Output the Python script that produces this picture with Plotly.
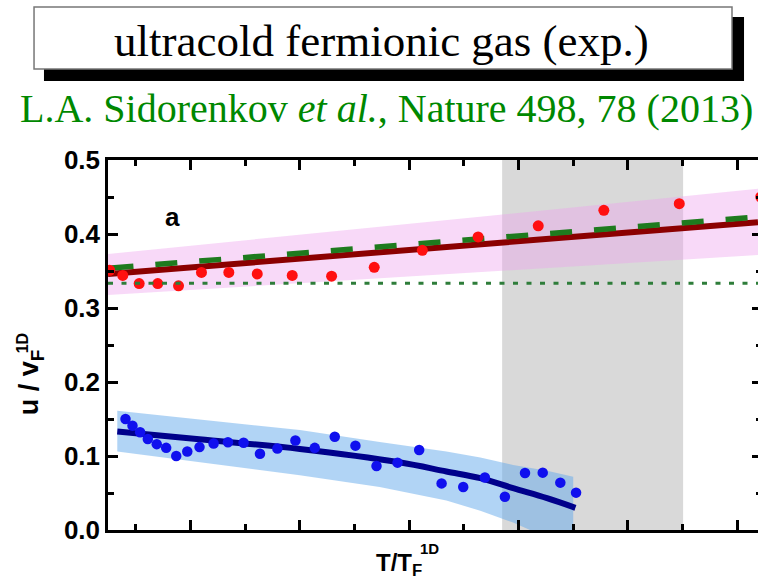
import plotly.graph_objects as go

# ---------------- data ----------------
X_RANGE = [0.0245, 0.619]
Y_RANGE = [0.0, 0.5]
Y_TICKS = [0.0, 0.1, 0.2, 0.3, 0.4, 0.5]
Y_TICK_LABELS = ["0.0", "0.1", "0.2", "0.3", "0.4", "0.5"]

# shaded (grey) temperature window
GRAY_BAND = [0.385, 0.5505]

# first sound (upper branch)
RED_X = [0.026, 0.038, 0.053, 0.070, 0.089, 0.110, 0.135, 0.161, 0.193, 0.229,
         0.268, 0.312, 0.363, 0.418, 0.478, 0.547, 0.6215]
RED_Y = [0.351, 0.344, 0.333, 0.333, 0.330, 0.348, 0.348, 0.346, 0.344, 0.343,
         0.355, 0.378, 0.396, 0.411, 0.432, 0.441, 0.450]
PINK_X = [0.0245, 0.619]
PINK_UPPER = [0.373, 0.461]
PINK_LOWER = [0.3176, 0.3716]
RED_LINE_X = [0.0245, 0.619]
RED_LINE_Y = [0.346, 0.416]
GREEN_DASH_X = [0.0277, 0.619]
GREEN_DASH_Y = [0.354, 0.423]
ONE_THIRD_X = [0.0245, 0.619]
ONE_THIRD_Y = [0.3333, 0.3333]

# second sound (lower branch)
BLUE_X = [0.0405, 0.0469, 0.0539, 0.0609, 0.0691, 0.0777, 0.0869, 0.0970, 0.1082,
          0.1211, 0.1342, 0.1485, 0.1635, 0.1794, 0.1959, 0.2136, 0.2319, 0.2508,
          0.2701, 0.2893, 0.3091, 0.3296, 0.3494, 0.3692, 0.3875, 0.4059, 0.4221,
          0.4382, 0.4526]
BLUE_Y = [0.150, 0.141, 0.132, 0.123, 0.116, 0.111, 0.100, 0.106, 0.112,
          0.117, 0.1185, 0.118, 0.103, 0.110, 0.121, 0.111, 0.126, 0.114,
          0.0865, 0.091, 0.108, 0.063, 0.058, 0.071, 0.045, 0.077, 0.0775,
          0.064, 0.0505]
BLUE_CURVE_X = [0.033, 0.108, 0.200, 0.291, 0.334, 0.365, 0.395, 0.426, 0.452]
BLUE_CURVE_Y = [0.133, 0.1225, 0.1095, 0.0915, 0.079, 0.070, 0.0565, 0.043, 0.030]
BLUE_BAND_X = [0.033, 0.108, 0.200, 0.273, 0.334, 0.365, 0.395, 0.426, 0.450]
BLUE_UPPER = [0.161, 0.149, 0.135, 0.119, 0.106, 0.098, 0.088, 0.080, 0.072]
BLUE_LOWER = [0.106, 0.092, 0.074, 0.058, 0.040, 0.026, 0.010, -0.010, -0.030]

TITLE = "ultracold fermionic gas (exp.)"
SUBTITLE = "L.A. Sidorenkov <i>et al.</i>, Nature 498, 78 (2013)"

# ---------------- figure ----------------
fig = go.Figure()

fig.add_trace(go.Scatter(
    x=PINK_X + PINK_X[::-1], y=PINK_UPPER + PINK_LOWER[::-1],
    mode="lines", fill="toself", fillcolor="rgba(238,160,238,0.40)",
    line=dict(width=0), hoverinfo="skip", showlegend=False))

fig.add_trace(go.Scatter(
    x=BLUE_BAND_X + BLUE_BAND_X[::-1], y=BLUE_UPPER + BLUE_LOWER[::-1],
    mode="lines", fill="toself", fillcolor="rgba(100,170,235,0.50)",
    line=dict(width=0), hoverinfo="skip", showlegend=False))

fig.add_trace(go.Scatter(
    x=ONE_THIRD_X, y=ONE_THIRD_Y, mode="lines", yaxis="y2",
    line=dict(color="#2e7d3a", width=3, dash="5px,8.5px"), showlegend=False))

fig.add_trace(go.Scatter(
    x=RED_LINE_X, y=RED_LINE_Y, mode="lines",
    line=dict(color="#8b0000", width=6), showlegend=False))

fig.add_trace(go.Scatter(
    x=GREEN_DASH_X, y=GREEN_DASH_Y, mode="lines",
    line=dict(color="#1e7b1e", width=5.5, dash="22px,22px"), showlegend=False))

fig.add_trace(go.Scatter(
    x=BLUE_CURVE_X, y=BLUE_CURVE_Y, mode="lines",
    line=dict(color="#00008b", width=6, shape="spline"), showlegend=False))

fig.add_trace(go.Scatter(
    x=RED_X, y=RED_Y, mode="markers", cliponaxis=True,
    marker=dict(color="#ff1010", size=11, line=dict(width=0)), showlegend=False))

fig.add_trace(go.Scatter(
    x=BLUE_X, y=BLUE_Y, mode="markers",
    marker=dict(color="#1010ee", size=10.5, line=dict(width=0)), showlegend=False))

# grey window
fig.add_shape(type="rect", xref="x", yref="paper",
              x0=GRAY_BAND[0], x1=GRAY_BAND[1], y0=0, y1=1,
              fillcolor="#d9d9d9", line=dict(width=0), layer="below")

# title box with drop shadow
fig.add_shape(type="rect", xref="paper", yref="paper",
              x0=-0.0985, x1=0.9785, y0=1.2135, y1=1.3865,
              fillcolor="black", line=dict(width=0))
fig.add_shape(type="rect", xref="paper", yref="paper",
              x0=-0.1138, x1=0.96, y0=1.2459, y1=1.4135,
              fillcolor="white", line=dict(color="#777777", width=1.5))

SERIF = "Liberation Serif, Times New Roman, serif"
SANS = "Liberation Sans, Arial, sans-serif"

fig.add_annotation(text=TITLE, xref="paper", yref="paper", x=0.4215, y=1.3216,
                   xanchor="center", yanchor="middle", showarrow=False,
                   font=dict(family=SERIF, size=45, color="black"))
fig.add_annotation(text=SUBTITLE, xref="paper", yref="paper", x=0.4277, y=1.1405,
                   xanchor="center", yanchor="middle", showarrow=False,
                   font=dict(family=SERIF, size=40, color="#008800"))

fig.add_annotation(text="a", xref="paper", yref="paper", x=0.0985, y=0.846,
                   xanchor="center", yanchor="middle", showarrow=False,
                   font=dict(family=SANS, size=26, color="black", weight="bold"))

# y-axis title (stacked sub/superscript)
fig.add_annotation(text="u / v<sub>F</sub>", xref="paper", yref="paper",
                   x=-0.118, y=0.40, textangle=-90, xanchor="center", yanchor="middle",
                   showarrow=False, font=dict(family=SANS, size=27, color="black", weight="bold"))
fig.add_annotation(text="1D", xref="paper", yref="paper",
                   x=-0.132, y=0.505, textangle=-90, xanchor="center", yanchor="middle",
                   showarrow=False, font=dict(family=SANS, size=16, color="black", weight="bold"))
# x-axis title
fig.add_annotation(text="T/T<sub>F</sub>", xref="paper", yref="paper",
                   x=0.448, y=-0.092, xanchor="center", yanchor="middle",
                   showarrow=False, font=dict(family=SANS, size=24, color="black", weight="bold"))
fig.add_annotation(text="1D", xref="paper", yref="paper",
                   x=0.494, y=-0.05, xanchor="center", yanchor="middle",
                   showarrow=False, font=dict(family=SANS, size=15, color="black", weight="bold"))

fig.update_layout(
    width=758, height=581, autosize=False,
    margin=dict(l=108, r=0, t=160, b=51),
    paper_bgcolor="white", plot_bgcolor="white",
    showlegend=False,
    xaxis=dict(range=X_RANGE, showgrid=False, zeroline=False,
               showline=True, linecolor="black", linewidth=2.5, mirror="ticks",
               ticks="inside", ticklen=10, tickwidth=2.5, tickcolor="black",
               tick0=0.1, dtick=0.1, showticklabels=False,
               minor=dict(ticks="inside", ticklen=6, tickwidth=2.5, tickcolor="black",
                          tick0=0.05, dtick=0.1)),
    yaxis=dict(range=Y_RANGE, showgrid=False, zeroline=False,
               showline=True, linecolor="black", linewidth=2.5,
               ticks="inside", ticklen=10, tickwidth=2.5, tickcolor="black",
               tickmode="array", tickvals=Y_TICKS, ticktext=Y_TICK_LABELS,
               tickfont=dict(family=SANS, size=26, color="black", weight="bold"),
               minor=dict(ticks="inside", ticklen=6, tickwidth=2.5, tickcolor="black",
                          tick0=0.05, dtick=0.1)),
    yaxis2=dict(range=Y_RANGE, overlaying="y", side="right", showgrid=False,
                zeroline=False, showline=False, showticklabels=False,
                ticks="inside", ticklen=6, tickwidth=2.5, tickcolor="black",
                tickmode="array", tickvals=Y_TICKS,
                minor=dict(ticks="inside", ticklen=2, tickwidth=2.5, tickcolor="black",
                           tick0=0.05, dtick=0.1)),
)

fig.write_html("out.html")
